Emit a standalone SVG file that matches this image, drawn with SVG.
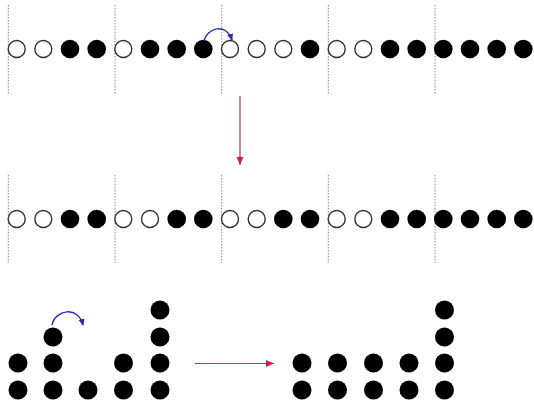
<svg xmlns="http://www.w3.org/2000/svg" width="534" height="400" viewBox="0 0 534 400">
<style>
.o{fill:#fff;stroke:#333;stroke-width:1.4}
.f{fill:#000}
.d{stroke:#888;stroke-width:1;stroke-dasharray:1.5,1.5;fill:none}
.b{stroke:#2a2ab8;stroke-width:1.4;fill:none}
.r{stroke:#b8344a;stroke-width:1.2;fill:none}
</style>
<defs>
<marker id="ab" markerWidth="8" markerHeight="8" refX="6" refY="4" orient="auto" markerUnits="userSpaceOnUse"><path d="M0,1 L7,4 L0,7 Z" fill="#2a2ab8"/></marker>
<marker id="ar" markerWidth="10" markerHeight="10" refX="8" refY="4" orient="auto" markerUnits="userSpaceOnUse"><path d="M0,0.5 L8,4 L0,7.5 Z" fill="#d0204a"/></marker>
</defs>
<g id="dividers">
<line class="d" x1="8.3" y1="5" x2="8.3" y2="94"/>
<line class="d" x1="115" y1="5" x2="115" y2="94"/>
<line class="d" x1="221.7" y1="5" x2="221.7" y2="94"/>
<line class="d" x1="328.3" y1="5" x2="328.3" y2="94"/>
<line class="d" x1="435" y1="5" x2="435" y2="94"/>
<line class="d" x1="8.3" y1="175" x2="8.3" y2="263"/>
<line class="d" x1="115" y1="175" x2="115" y2="263"/>
<line class="d" x1="221.7" y1="175" x2="221.7" y2="263"/>
<line class="d" x1="328.3" y1="175" x2="328.3" y2="263"/>
<line class="d" x1="435" y1="175" x2="435" y2="263"/>
</g>
<g id="row1">
<circle class="o" cx="16.7" cy="49" r="8.5"/>
<circle class="o" cx="43.3" cy="49" r="8.5"/>
<circle class="f" cx="70" cy="49" r="9.3"/>
<circle class="f" cx="96.7" cy="49" r="9.3"/>
<circle class="o" cx="123.3" cy="49" r="8.5"/>
<circle class="f" cx="150" cy="49" r="9.3"/>
<circle class="f" cx="176.7" cy="49" r="9.3"/>
<circle class="f" cx="203.3" cy="49" r="9.3"/>
<circle class="o" cx="230" cy="49" r="8.5"/>
<circle class="o" cx="256.7" cy="49" r="8.5"/>
<circle class="o" cx="283.3" cy="49" r="8.5"/>
<circle class="f" cx="310" cy="49" r="9.3"/>
<circle class="o" cx="336.7" cy="49" r="8.5"/>
<circle class="o" cx="363.3" cy="49" r="8.5"/>
<circle class="f" cx="390" cy="49" r="9.3"/>
<circle class="f" cx="416.7" cy="49" r="9.3"/>
<circle class="f" cx="443.3" cy="49" r="9.3"/>
<circle class="f" cx="470" cy="49" r="9.3"/>
<circle class="f" cx="496.7" cy="49" r="9.3"/>
<circle class="f" cx="523.3" cy="49" r="9.3"/>
</g>
<g id="row2">
<circle class="o" cx="16.7" cy="219" r="8.5"/>
<circle class="o" cx="43.3" cy="219" r="8.5"/>
<circle class="f" cx="70" cy="219" r="9.3"/>
<circle class="f" cx="96.7" cy="219" r="9.3"/>
<circle class="o" cx="123.3" cy="219" r="8.5"/>
<circle class="o" cx="150" cy="219" r="8.5"/>
<circle class="f" cx="176.7" cy="219" r="9.3"/>
<circle class="f" cx="203.3" cy="219" r="9.3"/>
<circle class="o" cx="230" cy="219" r="8.5"/>
<circle class="o" cx="256.7" cy="219" r="8.5"/>
<circle class="f" cx="283.3" cy="219" r="9.3"/>
<circle class="f" cx="310" cy="219" r="9.3"/>
<circle class="o" cx="336.7" cy="219" r="8.5"/>
<circle class="o" cx="363.3" cy="219" r="8.5"/>
<circle class="f" cx="390" cy="219" r="9.3"/>
<circle class="f" cx="416.7" cy="219" r="9.3"/>
<circle class="f" cx="443.3" cy="219" r="9.3"/>
<circle class="f" cx="470" cy="219" r="9.3"/>
<circle class="f" cx="496.7" cy="219" r="9.3"/>
<circle class="f" cx="523.3" cy="219" r="9.3"/>
</g>
<g id="stacks-left">
<circle class="f" cx="18" cy="363" r="9.5"/>
<circle class="f" cx="18" cy="390" r="9.5"/>
<circle class="f" cx="53" cy="337" r="9.5"/>
<circle class="f" cx="53" cy="363" r="9.5"/>
<circle class="f" cx="53" cy="390" r="9.5"/>
<circle class="f" cx="88" cy="390" r="9.5"/>
<circle class="f" cx="123.5" cy="363" r="9.5"/>
<circle class="f" cx="123.5" cy="390" r="9.5"/>
<circle class="f" cx="160" cy="310" r="9.5"/>
<circle class="f" cx="160" cy="337" r="9.5"/>
<circle class="f" cx="160" cy="363" r="9.5"/>
<circle class="f" cx="160" cy="390" r="9.5"/>
</g>
<g id="stacks-right">
<circle class="f" cx="302" cy="363" r="9.5"/>
<circle class="f" cx="302" cy="390" r="9.5"/>
<circle class="f" cx="337.5" cy="363" r="9.5"/>
<circle class="f" cx="337.5" cy="390" r="9.5"/>
<circle class="f" cx="373.5" cy="363" r="9.5"/>
<circle class="f" cx="373.5" cy="390" r="9.5"/>
<circle class="f" cx="409" cy="363" r="9.5"/>
<circle class="f" cx="409" cy="390" r="9.5"/>
<circle class="f" cx="444.5" cy="310" r="9.5"/>
<circle class="f" cx="444.5" cy="337" r="9.5"/>
<circle class="f" cx="444.5" cy="363" r="9.5"/>
<circle class="f" cx="444.5" cy="390" r="9.5"/>
</g>
<g id="connectors">
<path class="b" d="M204,41 C207,28 226,22 232,40" marker-end="url(#ab)"/>
<path class="b" d="M52,325 C55,310 78,305 83,325" marker-end="url(#ab)"/>
<line class="r" x1="240" y1="96" x2="240" y2="165" marker-end="url(#ar)"/>
<line class="r" x1="195" y1="363.5" x2="274" y2="363.5" marker-end="url(#ar)"/>
</g>
</svg>
